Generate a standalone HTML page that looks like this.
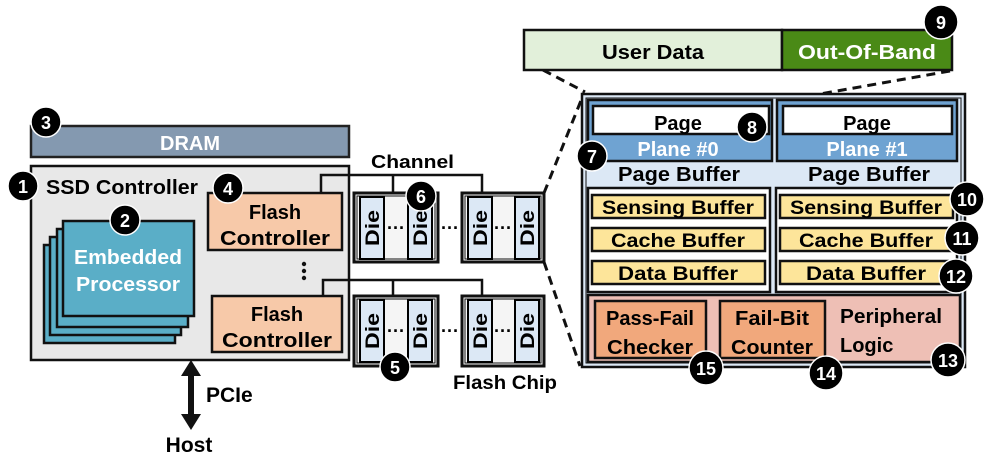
<!DOCTYPE html>
<html><head><meta charset="utf-8"><style>
html,body{margin:0;padding:0;background:#fff}
svg{display:block}
text{font-family:"Liberation Sans",sans-serif;font-weight:bold}
</style></head><body>
<svg width="997" height="475" viewBox="0 0 997 475" xmlns="http://www.w3.org/2000/svg">
<defs>
<g id="die"><rect x="0" y="0" width="24" height="62" fill="#dce8f5" stroke="#000" stroke-width="2"/>
<text transform="translate(19,31) rotate(-90)" text-anchor="middle" font-size="19" font-weight="normal" textLength="36" lengthAdjust="spacingAndGlyphs">Die</text></g>
</defs>
<!-- DRAM -->
<rect x="31" y="126" width="318" height="31" fill="#8499b0" stroke="#222" stroke-width="2.5"/>
<text x="190" y="150" text-anchor="middle" font-size="20" fill="#fff">DRAM</text>
<!-- SSD controller -->
<rect x="31" y="166" width="318" height="194" fill="#e8e8e8" stroke="#111" stroke-width="2.5"/>
<text x="46" y="194" font-size="20" font-weight="normal" textLength="152" lengthAdjust="spacingAndGlyphs">SSD Controller</text>
<!-- processor stack -->
<rect x="44" y="245" width="131" height="98" fill="#5aaec7" stroke="#111" stroke-width="2.5"/>
<rect x="50" y="237" width="131" height="98" fill="#5aaec7" stroke="#111" stroke-width="2.5"/>
<rect x="57" y="229" width="131" height="98" fill="#5aaec7" stroke="#111" stroke-width="2.5"/>
<rect x="63" y="221" width="131" height="95" fill="#5aaec7" stroke="#111" stroke-width="2.5"/>
<text x="128" y="264" text-anchor="middle" font-size="20" fill="#fff" textLength="108" lengthAdjust="spacingAndGlyphs">Embedded</text>
<text x="128" y="291" text-anchor="middle" font-size="20" fill="#fff" textLength="104" lengthAdjust="spacingAndGlyphs">Processor</text>
<!-- flash controllers -->
<rect x="208" y="193" width="134" height="57" fill="#f7c9a9" stroke="#111" stroke-width="2.5"/>
<text x="275" y="219" text-anchor="middle" font-size="20">Flash</text>
<text x="275" y="245" text-anchor="middle" font-size="20" textLength="110" lengthAdjust="spacingAndGlyphs">Controller</text>
<rect x="212" y="296" width="130" height="56" fill="#f7c9a9" stroke="#111" stroke-width="2.5"/>
<text x="277" y="321" text-anchor="middle" font-size="20">Flash</text>
<text x="277" y="347" text-anchor="middle" font-size="20" textLength="110" lengthAdjust="spacingAndGlyphs">Controller</text>
<circle cx="304" cy="264" r="2.2" fill="#111"/><circle cx="304" cy="271" r="2.2" fill="#111"/><circle cx="304" cy="278" r="2.2" fill="#111"/>
<!-- channels -->
<text x="371" y="168" font-size="18" font-weight="normal" textLength="83" lengthAdjust="spacingAndGlyphs">Channel</text>
<polyline points="321,193 321,175 482,175 482,193" fill="none" stroke="#111" stroke-width="2.5"/>
<line x1="393" y1="175" x2="393" y2="193" stroke="#111" stroke-width="2.5"/>
<polyline points="323,296 323,280 482,280 482,296" fill="none" stroke="#111" stroke-width="2.5"/>
<line x1="393" y1="280" x2="393" y2="296" stroke="#111" stroke-width="2.5"/>
<!-- chips -->
<g>
<rect x="354" y="193" width="84" height="69" fill="#f5f5f5" stroke="#111" stroke-width="3"/>
<rect x="357" y="196" width="78" height="63" fill="none" stroke="#111" stroke-width="1"/>
<use href="#die" x="360" y="197"/><use href="#die" x="408" y="197"/>
<rect x="462" y="193" width="82" height="69" fill="#f5f5f5" stroke="#111" stroke-width="3"/>
<rect x="465" y="196" width="76" height="63" fill="none" stroke="#111" stroke-width="1"/>
<use href="#die" x="468" y="197"/><use href="#die" x="515" y="197"/>
<text x="396" y="234" text-anchor="middle" font-size="18">···</text>
<text x="450" y="234" text-anchor="middle" font-size="18">···</text>
<text x="503" y="234" text-anchor="middle" font-size="18">···</text>
</g>
<g>
<rect x="354" y="296" width="84" height="70" fill="#f5f5f5" stroke="#111" stroke-width="3"/>
<rect x="357" y="299" width="78" height="64" fill="none" stroke="#111" stroke-width="1"/>
<use href="#die" x="360" y="300"/><use href="#die" x="408" y="300"/>
<rect x="462" y="296" width="82" height="70" fill="#f5f5f5" stroke="#111" stroke-width="3"/>
<rect x="465" y="299" width="76" height="64" fill="none" stroke="#111" stroke-width="1"/>
<use href="#die" x="468" y="300"/><use href="#die" x="515" y="300"/>
<text x="396" y="337" text-anchor="middle" font-size="18">···</text>
<text x="450" y="337" text-anchor="middle" font-size="18">···</text>
<text x="503" y="337" text-anchor="middle" font-size="18">···</text>
</g>
<text x="453" y="389" font-size="19" textLength="104" lengthAdjust="spacingAndGlyphs">Flash Chip</text>
<!-- PCIe -->
<line x1="191" y1="372" x2="191" y2="418" stroke="#111" stroke-width="6"/>
<polygon points="191,360 181,376 201,376" fill="#111"/>
<polygon points="191,430 181,414 201,414" fill="#111"/>
<text x="206" y="402" font-size="21">PCIe</text>
<text x="189" y="452" text-anchor="middle" font-size="21">Host</text>
<!-- dashed -->
<g stroke="#111" stroke-width="3" stroke-dasharray="9,6" fill="none">
<line x1="543" y1="70" x2="585" y2="92"/>
<line x1="544" y1="193" x2="584" y2="93"/>
<line x1="544" y1="262" x2="580" y2="366"/>
<line x1="950" y1="71" x2="803" y2="97"/>
</g>
<!-- page layout bar -->
<rect x="524" y="30" width="258" height="40" fill="#e2f0da" stroke="#111" stroke-width="2.5"/>
<rect x="782" y="30" width="170" height="40" fill="#4a8a16" stroke="#111" stroke-width="2.5"/>
<text x="653" y="59" text-anchor="middle" font-size="20" textLength="102" lengthAdjust="spacingAndGlyphs">User Data</text>
<text x="867" y="59" text-anchor="middle" font-size="20" fill="#fff" textLength="138" lengthAdjust="spacingAndGlyphs">Out-Of-Band</text>
<!-- die detail -->
<rect x="582" y="94" width="383" height="273" fill="#dce8f5" stroke="#111" stroke-width="2.5"/>
<rect x="586" y="98" width="375" height="265" fill="none" stroke="#111" stroke-width="1"/>
<rect x="588" y="100" width="184" height="61" fill="#6fa3d2" stroke="#111" stroke-width="2.5"/>
<rect x="593" y="106" width="176" height="28" fill="#fff" stroke="#111" stroke-width="2.5"/>
<text x="678" y="130" text-anchor="middle" font-size="20">Page</text>
<text x="678" y="156" text-anchor="middle" font-size="20" fill="#fff">Plane #0</text>
<rect x="777" y="100" width="180" height="61" fill="#6fa3d2" stroke="#111" stroke-width="2.5"/>
<rect x="783" y="106" width="169" height="28" fill="#fff" stroke="#111" stroke-width="2.5"/>
<text x="867" y="130" text-anchor="middle" font-size="20">Page</text>
<text x="867" y="156" text-anchor="middle" font-size="20" fill="#fff">Plane #1</text>
<text x="679" y="181" text-anchor="middle" font-size="20" textLength="122" lengthAdjust="spacingAndGlyphs">Page Buffer</text>
<text x="869" y="181" text-anchor="middle" font-size="20" textLength="122" lengthAdjust="spacingAndGlyphs">Page Buffer</text>
<rect x="588" y="188" width="182" height="104" fill="#fff" stroke="#111" stroke-width="2.5"/>
<rect x="776" y="188" width="181" height="104" fill="#fff" stroke="#111" stroke-width="2.5"/>
<g fill="#fde59a" stroke="#111" stroke-width="2.5">
<rect x="592" y="195" width="173" height="23"/><rect x="592" y="228" width="173" height="23"/><rect x="592" y="261" width="173" height="23"/>
<rect x="780" y="195" width="173" height="23"/><rect x="780" y="228" width="173" height="23"/><rect x="780" y="261" width="173" height="23"/>
</g>
<g font-size="19" text-anchor="middle" lengthAdjust="spacingAndGlyphs">
<text x="678" y="214" textLength="152" lengthAdjust="spacingAndGlyphs">Sensing Buffer</text><text x="678" y="247" textLength="134" lengthAdjust="spacingAndGlyphs">Cache Buffer</text><text x="678" y="280" textLength="120" lengthAdjust="spacingAndGlyphs">Data Buffer</text>
<text x="866" y="214" textLength="152" lengthAdjust="spacingAndGlyphs">Sensing Buffer</text><text x="866" y="247" textLength="134" lengthAdjust="spacingAndGlyphs">Cache Buffer</text><text x="866" y="280" textLength="120" lengthAdjust="spacingAndGlyphs">Data Buffer</text>
</g>
<rect x="588" y="295" width="372" height="67" fill="#eebfb5" stroke="#111" stroke-width="2.5"/>
<rect x="595" y="301" width="111" height="57" fill="#f1a87c" stroke="#111" stroke-width="2.5"/>
<rect x="720" y="301" width="105" height="57" fill="#f1a87c" stroke="#111" stroke-width="2.5"/>
<g font-size="20" font-weight="normal">
<text x="650" y="325" text-anchor="middle" textLength="88" lengthAdjust="spacingAndGlyphs">Pass-Fail</text><text x="650" y="354" text-anchor="middle" textLength="86" lengthAdjust="spacingAndGlyphs">Checker</text>
<text x="772" y="325" text-anchor="middle" textLength="74" lengthAdjust="spacingAndGlyphs">Fail-Bit</text><text x="772" y="354" text-anchor="middle" textLength="82" lengthAdjust="spacingAndGlyphs">Counter</text>
<text x="840" y="323" textLength="102" lengthAdjust="spacingAndGlyphs">Peripheral</text><text x="840" y="352">Logic</text>
</g>
<!-- badges -->
<g fill="#000" stroke="#fff" stroke-width="1.5">
<circle cx="46" cy="122" r="15"/><circle cx="23" cy="186" r="15"/><circle cx="125" cy="220" r="15"/><circle cx="228" cy="188" r="15"/>
<circle cx="421" cy="196" r="15"/><circle cx="395" cy="367" r="15"/><circle cx="592" cy="156" r="15"/><circle cx="752" cy="127" r="15"/>
<circle cx="941" cy="22" r="17"/><circle cx="967" cy="199" r="17"/><circle cx="962" cy="238" r="17"/><circle cx="956" cy="276" r="17"/>
<circle cx="948" cy="360" r="17"/><circle cx="826" cy="373" r="17"/><circle cx="706" cy="368" r="17"/>
</g>
<g fill="#fff" font-size="18" text-anchor="middle">
<text x="46" y="129">3</text><text x="23" y="193">1</text><text x="125" y="227">2</text><text x="228" y="195">4</text>
<text x="421" y="203">6</text><text x="395" y="374">5</text><text x="592" y="163">7</text><text x="752" y="134">8</text>
<text x="941" y="29">9</text><text x="967" y="206">10</text><text x="962" y="245">11</text><text x="956" y="283">12</text>
<text x="948" y="367">13</text><text x="826" y="380">14</text><text x="706" y="375">15</text>
</g>
</svg>
</body></html>
